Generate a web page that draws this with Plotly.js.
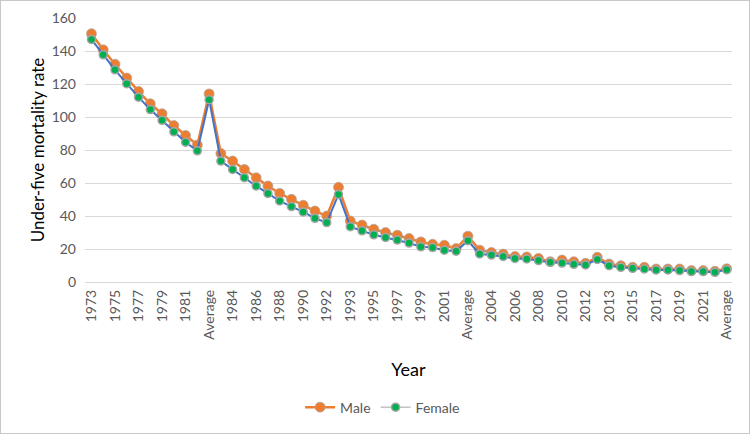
<!DOCTYPE html>
<html>
<head>
<meta charset="utf-8">
<script src="https://cdn.plot.ly/plotly-3.0.1.min.js"></script>
<style>
  html, body { margin: 0; padding: 0; background: #fff; }
  #wrap { position: relative; width: 750px; height: 434px; }
  #chart { width: 750px; height: 434px; }
  #frame { position: absolute; left: 0; top: 0; width: 748px; height: 432px;
           border: 1px solid #c8c8c8; pointer-events: none; }
</style>
</head>
<body>
<div id="wrap">
  <div id="chart"></div>
  <div id="frame"></div>
</div>
<script>
// Category labels along the x axis (each decade followed by its average)
const labels = [
  '1973','1974','1975','1976','1977','1978','1979','1980','1981','1982','Average',
  '1983','1984','1985','1986','1987','1988','1989','1990','1991','1992','Average',
  '1993','1994','1995','1996','1997','1998','1999','2000','2001','2002','Average',
  '2003','2004','2005','2006','2007','2008','2009','2010','2011','2012','Average',
  '2013','2014','2015','2016','2017','2018','2019','2020','2021','2022','Average'
];

// Under-five mortality rate, male
const male = [
  150.5, 140.7, 132.0, 123.6, 115.5, 108.0, 102.0, 94.8, 88.8, 83.0, 114.0,
  77.9, 73.3, 68.2, 63.2, 58.2, 53.7, 50.1, 46.5, 43.0, 40.0, 57.4,
  37.0, 34.5, 32.0, 30.0, 28.4, 26.4, 24.3, 22.9, 22.3, 20.3, 27.8,
  19.3, 17.9, 16.9, 15.5, 15.2, 14.3, 12.3, 13.3, 12.3, 11.3, 15.0,
  10.9, 9.9, 8.9, 8.9, 7.9, 7.9, 7.9, 6.9, 6.9, 6.5, 8.0
];

// Under-five mortality rate, female
const female = [
  147.0, 137.7, 128.6, 120.2, 112.0, 104.5, 98.0, 91.0, 84.7, 79.5, 110.5,
  73.3, 68.2, 63.2, 58.2, 53.7, 49.1, 45.7, 42.5, 38.6, 36.0, 53.1,
  33.5, 31.0, 28.6, 27.0, 25.4, 23.6, 21.3, 20.9, 19.3, 18.7, 25.0,
  17.0, 16.3, 15.5, 14.3, 14.0, 13.0, 11.9, 11.5, 10.7, 10.3, 13.7,
  9.9, 8.9, 8.3, 7.9, 7.3, 7.3, 6.9, 6.3, 6.3, 5.9, 7.5
];

// Positions along the category axis (labels repeat, so use indices)
const xs = labels.map((_, i) => i);
const tickIdx = xs.filter(i => i % 2 === 0);

const FONT = 'Lato, "Open Sans", sans-serif';

const traces = [
  {
    name: 'Male', x: xs, y: male, type: 'scatter', mode: 'lines+markers',
    line: { color: '#ED7D31', width: 2.5 },
    marker: { color: '#ED7D31', size: 10, line: { color: 'rgba(170,170,170,0.7)', width: 1 } }
  },
  {
    name: 'Female', x: xs, y: female, type: 'scatter', mode: 'lines+markers',
    showlegend: false,
    line: { color: '#4472C4', width: 2 },
    marker: { color: '#00B050', size: 8, line: { color: '#A5A5A5', width: 1.5 } }
  },
  {
    // legend entry for the female series
    name: 'Female', x: [null], y: [null], type: 'scatter', mode: 'lines+markers',
    line: { color: '#A5A5A5', width: 1 },
    marker: { color: '#00B050', size: 8, line: { color: '#A5A5A5', width: 1.5 } }
  }
];

const layout = {
  width: 750, height: 434,
  margin: { l: 85, r: 18, t: 18, b: 151 },
  paper_bgcolor: '#fff', plot_bgcolor: '#fff',
  font: { family: FONT, color: '#595959', size: 14 },
  showlegend: true,
  legend: {
    orientation: 'h', x: 0.46, xanchor: 'center', y: -0.47, yanchor: 'middle',
    font: { family: FONT, size: 14, color: '#595959' }, traceorder: 'normal'
  },
  xaxis: {
    range: [-0.55, 54.45],
    tickmode: 'array', tickvals: tickIdx, ticktext: tickIdx.map(i => labels[i]),
    tickangle: -90, tickfont: { family: FONT, size: 14, color: '#595959' },
    ticklabelstandoff: 4,
    showgrid: false, zeroline: false, showline: false, ticks: '',
    title: { text: 'Year', font: { family: FONT, size: 18, color: '#000' }, standoff: 24 }
  },
  yaxis: {
    range: [0, 160], tickvals: [0, 20, 40, 60, 80, 100, 120, 140, 160],
    showgrid: true, gridcolor: '#D9D9D9', gridwidth: 1,
    zeroline: true, zerolinecolor: '#D9D9D9', zerolinewidth: 1,
    showline: false, ticks: '', ticklen: 0, ticklabelstandoff: 8,
    tickfont: { family: FONT, size: 14, color: '#595959' },
    title: { text: 'Under-five mortality rate', font: { family: FONT, size: 17, color: '#000' }, standoff: 2 }
  }
};

Plotly.newPlot('chart', traces, layout, { displayModeBar: false, staticPlot: true });
</script>
</body>
</html>
